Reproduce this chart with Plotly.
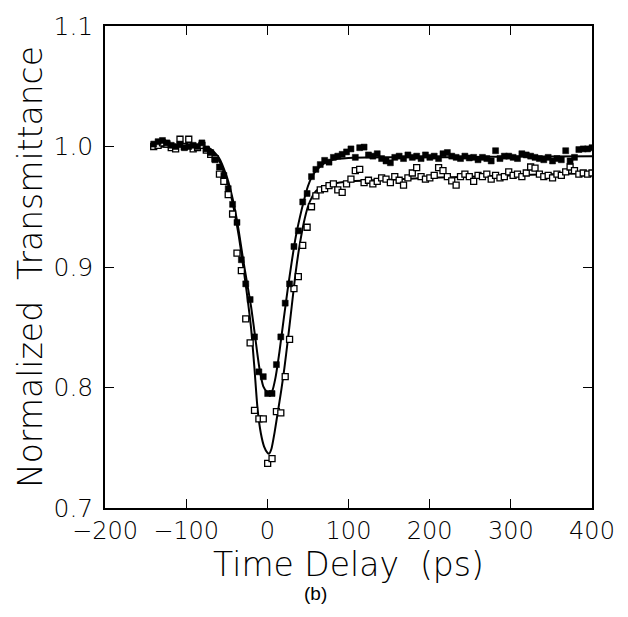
import plotly.graph_objects as go

# Time delay grid of the measured points (ps)
time_ps = [
    -140.0, -134.6, -129.2, -123.8, -118.4, -113.0, -107.6, -102.2, -96.8, -91.4,
    -86.0, -80.6, -75.2, -69.8, -64.4, -59.0, -53.6, -48.2, -42.8, -37.4,
    -32.0, -26.6, -21.2, -15.8, -10.4, -5.0, 0.4, 5.8, 11.2, 16.6,
    22.0, 27.4, 32.8, 38.2, 43.6, 49.0, 54.4, 59.8, 65.2, 70.6,
    76.0, 81.4, 86.8, 92.2, 97.6, 103.0, 108.4, 113.8, 119.2, 124.6,
    130.0, 135.4, 140.8, 146.2, 151.6, 157.0, 162.4, 167.8, 173.2, 178.6,
    184.0, 189.4, 194.8, 200.2, 205.6, 211.0, 216.4, 221.8, 227.2, 232.6,
    238.0, 243.4, 248.8, 254.2, 259.6, 265.0, 270.4, 275.8, 281.2, 286.6,
    292.0, 297.4, 302.8, 308.2, 313.6, 319.0, 324.4, 329.8, 335.2, 340.6,
    346.0, 351.4, 356.8, 362.2, 367.6, 373.0, 378.4, 383.8, 389.2, 394.6,
    400.0,
]

# Filled squares (upper curve)
filled_T = [
    1.002, 1.004, 1.005, 1.003, 1.001, 1.000, 1.002, 0.999, 1.000, 1.001,
    1.000, 1.003, 0.998, 0.995, 0.989, 0.983, 0.976, 0.965, 0.952, 0.937,
    0.906, 0.886, 0.873, 0.842, 0.813, 0.809, 0.795, 0.795, 0.819, 0.842,
    0.870, 0.886, 0.917, 0.930, 0.954, 0.961, 0.975, 0.981, 0.985, 0.9885,
    0.987, 0.991, 0.992, 0.9935, 0.9955, 0.998, 0.991, 0.999, 0.9995, 0.993,
    0.992, 0.994, 0.990, 0.988, 0.9865, 0.991, 0.992, 0.990, 0.993, 0.991,
    0.992, 0.990, 0.993, 0.991, 0.992, 0.990, 0.994, 0.995, 0.992, 0.991,
    0.990, 0.992, 0.9905, 0.991, 0.989, 0.991, 0.990, 0.988, 0.9965, 0.990,
    0.992, 0.992, 0.991, 0.990, 0.994, 0.993, 0.992, 0.991, 0.990, 0.989,
    0.991, 0.988, 0.990, 0.989, 0.9965, 0.988, 0.991, 0.9975, 0.998, 0.998,
    0.999,
]

# Open squares (lower curve)
open_T = [
    1.000, 1.001, 1.003, 1.002, 0.999, 0.998, 1.006, 1.000, 1.006, 0.998,
    0.999, 1.001, 0.997, 0.9934, 0.990, 0.977, 0.971, 0.960, 0.944, 0.9115,
    0.897, 0.857, 0.837, 0.781, 0.774, 0.774, 0.737, 0.741, 0.780, 0.779,
    0.809, 0.840, 0.882, 0.892, 0.918, 0.933, 0.950, 0.959, 0.964, 0.965,
    0.9675, 0.969, 0.964, 0.962, 0.969, 0.973, 0.980, 0.981, 0.970, 0.972,
    0.969, 0.971, 0.974, 0.973, 0.970, 0.975, 0.972, 0.968, 0.974, 0.978,
    0.9825, 0.975, 0.973, 0.974, 0.976, 0.9825, 0.980, 0.975, 0.9715, 0.968,
    0.975, 0.977, 0.975, 0.971, 0.976, 0.975, 0.977, 0.973, 0.976, 0.974,
    0.975, 0.979, 0.976, 0.977, 0.975, 0.978, 0.983, 0.982, 0.977, 0.975,
    0.976, 0.974, 0.977, 0.976, 0.979, 0.983, 0.980, 0.977, 0.978, 0.977,
    0.978,
]

# Fitted curves
fit_filled_t = [-140, -100, -80, -70, -60, -50, -45, -40, -35, -30, -25, -20, -15, -10,
                -5, 0, 3, 6, 10, 15, 20, 25, 30, 35, 40, 45, 50, 55, 60, 70, 80, 100,
                150, 200, 250, 300, 350, 400]
fit_filled = [1.000, 1.000, 0.9995, 0.998, 0.991, 0.975, 0.963, 0.948, 0.929, 0.907,
              0.887, 0.867, 0.842, 0.817, 0.801, 0.796, 0.795, 0.797, 0.808, 0.830,
              0.856, 0.881, 0.904, 0.925, 0.941, 0.955, 0.967, 0.975, 0.980, 0.986,
              0.989, 0.9905, 0.991, 0.991, 0.9913, 0.9915, 0.9918, 0.992]

fit_open_t = [-140, -100, -80, -70, -60, -50, -45, -40, -35, -30, -25, -20, -16, -12,
              -8, -4, 0, 2, 5, 9, 13, 17, 21, 25, 30, 35, 40, 45, 50, 55, 60, 70, 80,
              100, 150, 200, 250, 300, 350, 400]
fit_open = [1.000, 1.000, 0.999, 0.997, 0.989, 0.972, 0.960, 0.944, 0.925, 0.902,
            0.877, 0.849, 0.817, 0.782, 0.762, 0.751, 0.746, 0.745, 0.749, 0.763,
            0.780, 0.797, 0.816, 0.838, 0.867, 0.896, 0.919, 0.937, 0.950, 0.958,
            0.963, 0.967, 0.969, 0.971, 0.9725, 0.974, 0.975, 0.976, 0.977, 0.978]

x_ticks = [-200, -100, 0, 100, 200, 300, 400]
y_ticks = [0.7, 0.8, 0.9, 1.0, 1.1]

FONT = "DejaVu Sans"

fig = go.Figure()
fig.add_trace(go.Scatter(x=fit_filled_t, y=fit_filled, mode="lines",
                         line=dict(color="black", width=2, shape="spline", smoothing=0.6),
                         showlegend=False, hoverinfo="skip"))
fig.add_trace(go.Scatter(x=fit_open_t, y=fit_open, mode="lines",
                         line=dict(color="black", width=2, shape="spline", smoothing=0.6),
                         showlegend=False, hoverinfo="skip"))
fig.add_trace(go.Scatter(x=time_ps, y=open_T, mode="markers",
                         marker=dict(symbol="square", size=6, color="white",
                                     line=dict(color="black", width=1.3)),
                         showlegend=False))
fig.add_trace(go.Scatter(x=time_ps, y=filled_T, mode="markers",
                         marker=dict(symbol="square", size=6, color="black",
                                     line=dict(color="black", width=0.5)),
                         showlegend=False))

axis_common = dict(
    showgrid=False, zeroline=False, showline=True, linecolor="black", linewidth=1.5,
    mirror="ticks", ticks="inside", ticklen=9, tickwidth=1.3, tickcolor="black",
    automargin=True,
)

fig.update_layout(
    width=628, height=617,
    margin=dict(l=105, r=36, t=20, b=109),
    paper_bgcolor="white", plot_bgcolor="white",
    font=dict(family=FONT, color="black"),
    xaxis=dict(range=[-200, 400], tickvals=x_ticks,
               tickfont=dict(size=24, family=FONT, weight=300),
               ticklabelstandoff=0,
               title=dict(text="Time Delay  (ps)",
                          font=dict(size=33, family=FONT, weight=200),
                          standoff=1),
               **axis_common),
    yaxis=dict(range=[0.7, 1.1], tickvals=y_ticks, tickformat=".1f",
               tickfont=dict(size=25, family=FONT, weight=300),
               ticklabelstandoff=5,
               title=dict(text="Normalized  Transmittance",
                          font=dict(size=33, family=FONT, weight=200),
                          standoff=1),
               **axis_common),
    annotations=[dict(text="(b)", xref="paper", yref="paper", x=0.433, y=-0.178,
                      xanchor="center", yanchor="middle", showarrow=False,
                      font=dict(size=19, family="Liberation Sans", color="black"))],
)

fig.write_html("out.html")
